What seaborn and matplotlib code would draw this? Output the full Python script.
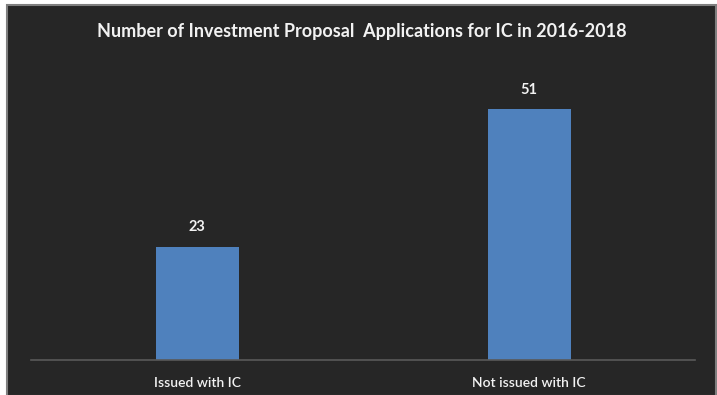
import matplotlib
matplotlib.use("Agg")
import matplotlib.pyplot as plt
from matplotlib.patches import Rectangle
import seaborn as sns
import pandas as pd

categories = ["Issued with IC", "Not issued with IC"]
counts = [23, 51]
title = "Number of Investment Proposal  Applications for IC in 2016-2018"

panel_color = "#262626"
bar_color = "#4F81BD"
text_color = "#F2F2F2"

sns.set_theme(style="white")
plt.rcParams["font.family"] = ["Lato", "DejaVu Sans"]

df = pd.DataFrame({"category": categories, "count": counts})

W, H = 717, 395
fig = plt.figure(figsize=(W / 100, H / 100), dpi=100, facecolor="white")

# dark chart panel with a thin grey frame, on its own background axes
bg = fig.add_axes([0, 0, 1, 1], zorder=-1)
bg.set_axis_off()
bg.set_xlim(0, W)
bg.set_ylim(H, 0)
bg.add_patch(Rectangle((7, 5), W - 8, H - 4, facecolor=panel_color,
                       edgecolor="#7F7F7F", linewidth=1.5))

ax = fig.add_axes([31 / W, (H - 360) / H, 664 / W, (360 - 65) / H], zorder=1)
ax.set_facecolor("none")

sns.barplot(data=df, x="category", y="count", color=bar_color, width=0.25,
            saturation=1, linewidth=0, ax=ax)

ax.set_xlim(-0.5, 1.5)
ax.set_ylim(0, 60)
ax.set_xlabel("")
ax.set_ylabel("")
ax.set_yticks([])
for side in ["top", "right", "left"]:
    ax.spines[side].set_visible(False)
ax.spines["bottom"].set_color("#595959")
ax.spines["bottom"].set_linewidth(1.2)
ax.tick_params(axis="x", length=0, pad=12, colors=text_color, labelsize=10)
for lbl in ax.get_xticklabels():
    lbl.set_fontweight("semibold")

for container in ax.containers:
    ax.bar_label(container, labels=[str(v) for v in counts], padding=9,
                 color=text_color, fontsize=10.5, fontweight="bold")

fig.text(362 / W, 1 - 32 / H, title, ha="center", va="center",
         color=text_color, fontsize=13, fontweight="bold")

fig.savefig("out.png", dpi=100, facecolor="white")
